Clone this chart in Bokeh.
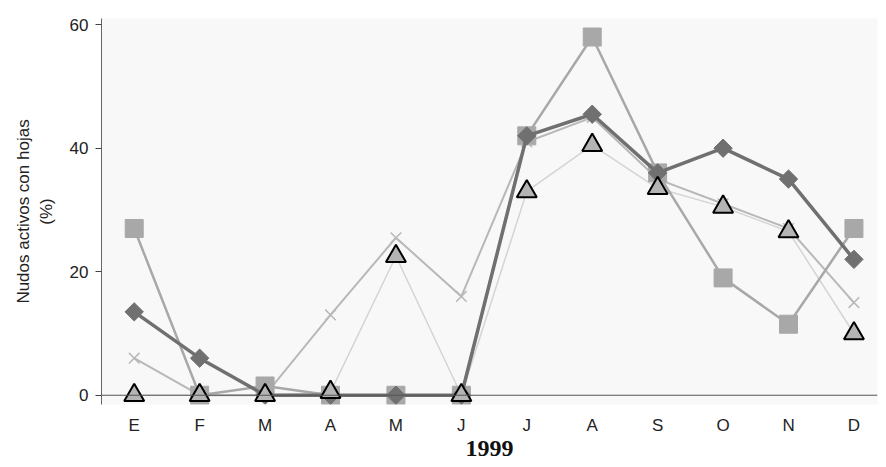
import math
from bokeh.plotting import figure
from bokeh.models import Range1d, FixedTicker, Span, ColumnDataSource
from bokeh.embed import file_html
from bokeh.resources import INLINE

months = ["E", "F", "M", "A", "M", "J", "J", "A", "S", "O", "N", "D"]
serie_rombos = [13.5, 6, 0, 0, 0, 0, 42, 45.5, 36, 40, 35, 22]
serie_cuadrados = [27, 0, 1.5, 0, 0, 0, 42, 58, 36, 19, 11.5, 27]
serie_cruces = [6, 0, 0, 13, 25.5, 16, 41, 45, 35, 31, 27, 15]
serie_triangulos = [0, 0, 0, 0.5, 22.5, 0, 33, 40.5, 33.5, 30.5, 26.5, 10]
y_ticks = [0, 20, 40, 60]

xs = list(range(1, len(months) + 1))

p = figure(width=880, height=465, output_backend="svg", toolbar_location=None,
           x_range=Range1d(0.5, 12.36), y_range=Range1d(-1.5, 61),
           min_border_left=101, min_border_right=3, min_border_top=18, min_border_bottom=61)
p.background_fill_color = "#f8f8f8"
p.border_fill_color = "white"
p.outline_line_color = None
p.grid.visible = False

src = ColumnDataSource(dict(x=xs, d=serie_rombos, s=serie_cuadrados, c=serie_cruces, t=serie_triangulos))

# triangles series (thin light line)
p.line("x", "t", source=src, line_color="#d4d4d4", line_width=1.5)
# crosses series
p.line("x", "c", source=src, line_color="#b8b8b8", line_width=2)
p.scatter("x", "c", source=src, marker="x", size=15, line_color="#b8b8b8", line_width=1.5)
# squares series
p.line("x", "s", source=src, line_color="#a8a8a8", line_width=2.5)
p.scatter("x", "s", source=src, marker="square", size=18, fill_color="#a8a8a8", line_color="#a8a8a8")
# diamonds series
p.line("x", "d", source=src, line_color="#707070", line_width=3.5)
p.scatter("x", "d", source=src, marker="square", angle=math.pi / 4, size=13,
          fill_color="#707070", line_color="#707070")
# triangle markers
p.scatter("x", "t", source=src, marker="triangle", size=20, fill_color="#b4b4b4", line_color="black", line_width=2)

p.add_layout(Span(location=0, dimension="width", line_color="#555555", line_width=1))

p.xaxis.ticker = FixedTicker(ticks=xs)
p.xaxis.major_label_overrides = {x: m for x, m in zip(xs, months)}
p.xaxis.axis_line_color = None
p.xaxis.major_tick_line_color = None
p.xaxis.minor_tick_line_color = None
p.xaxis.major_label_standoff = 5
p.xaxis.major_label_text_font = "Liberation Sans"
p.xaxis.major_label_text_font_size = "17px"
p.xaxis.major_label_text_color = "#222222"
p.xaxis.axis_label = "1999"
p.xaxis.axis_label_text_font = "Liberation Serif"
p.xaxis.axis_label_text_font_style = "bold"
p.xaxis.axis_label_text_font_size = "24px"
p.xaxis.axis_label_text_color = "#111111"
p.xaxis.axis_label_standoff = 3

p.yaxis.ticker = FixedTicker(ticks=y_ticks)
p.yaxis.axis_line_color = "#666666"
p.yaxis.major_tick_line_color = "#444444"
p.yaxis.major_tick_out = 6
p.yaxis.major_tick_in = 0
p.yaxis.minor_tick_line_color = None
p.yaxis.major_label_text_font = "Liberation Sans"
p.yaxis.major_label_text_font_size = "17px"
p.yaxis.major_label_text_color = "#222222"
p.yaxis.major_label_standoff = 7
p.yaxis.axis_label = "Nudos activos con hojas\n(%)"
p.yaxis.axis_label_text_font = "Liberation Sans"
p.yaxis.axis_label_text_font_style = "normal"
p.yaxis.axis_label_text_font_size = "17px"
p.yaxis.axis_label_text_color = "#222222"
p.yaxis.axis_label_standoff = 11

open("out.html", "w").write(file_html(p, INLINE))
